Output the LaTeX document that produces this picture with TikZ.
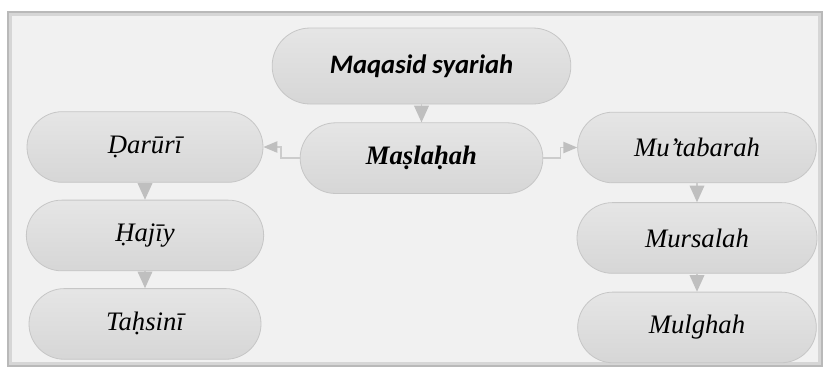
\documentclass[tikz,border=0pt]{standalone}
\usepackage{fontspec}
\setmainfont{Liberation Serif}
\newfontfamily\calibri{Carlito}
\usepackage{tikz}
\usetikzlibrary{
    arrows.meta,
    shapes.misc,
    positioning
}
\tikzstyle{pill} = [
    rounded rectangle,
    draw=gray!45,
    line width=0.6pt,
    top color=gray!20,
    bottom color=gray!32,
    minimum width=178pt,
    minimum height=53pt,
    inner sep=0pt,
    font=\fontsize{20}{24}\selectfont\itshape
]
\tikzstyle{arrow} = [
    -{Triangle[length=12.5pt,width=11pt,color=gray!50]},
    line width=1.1pt,
    draw=gray!40
]

\begin{document}
\begin{tikzpicture}[x=0.75pt, y=-0.75pt]
        \useasboundingbox (0,0) rectangle (823,369);

        % Frame
        \fill[gray!55] (7,11) rectangle (823,367);
        \fill[gray!32] (9,13) rectangle (821,365);
        \fill[gray!11] (12,16) rectangle (818,362);

        % Top
        \node[pill, minimum width=224pt, minimum height=57pt, font=\fontsize{20}{24}\selectfont\calibri\bfseries\itshape] (maqasid) at (421.5,66) {Maqasid syariah};
        \node[pill, minimum width=182pt, font=\fontsize{20}{24}\selectfont\bfseries\itshape, below=13.5pt of maqasid] (maslahah) {Maṣlaḥah};

        % Left column
        \node[pill, minimum width=177pt] (daruri) at (145,147) {Ḍarūrī};
        \node[pill, below=12.75pt of daruri] (hajiy) {Ḥajīy};
        \node[pill, minimum width=174pt, below=12.75pt of hajiy] (tahsini) {Taḥsinī};

        % Right column
        \node[pill, minimum width=179pt] (mutabarah) at (697,147.5) {Mu’tabarah};
        \node[pill, minimum width=180pt, below=14.25pt of mutabarah] (mursalah) {Mursalah};
        \node[pill, minimum width=179pt, below=13.5pt of mursalah] (mulghah) {Mulghah};

        % Arrows
        \draw[arrow] (maqasid.south) -- (maslahah.north);
        \draw[arrow] (daruri.south) -- (hajiy.north);
        \draw[arrow] (hajiy.south) -- (tahsini.north);
        \draw[arrow] (mutabarah.south) -- (mursalah.north);
        \draw[arrow] (mursalah.south) -- (mulghah.north);
        \draw[arrow, -{Triangle[length=10.5pt,width=8.5pt,color=gray!50]}] (maslahah.west) -- ++(-19,0) |- (daruri.east);
        \draw[arrow, -{Triangle[length=10.5pt,width=8.5pt,color=gray!50]}] (maslahah.east) -- ++(17,0) |- (mutabarah.west);
    \end{tikzpicture}
\end{document}
